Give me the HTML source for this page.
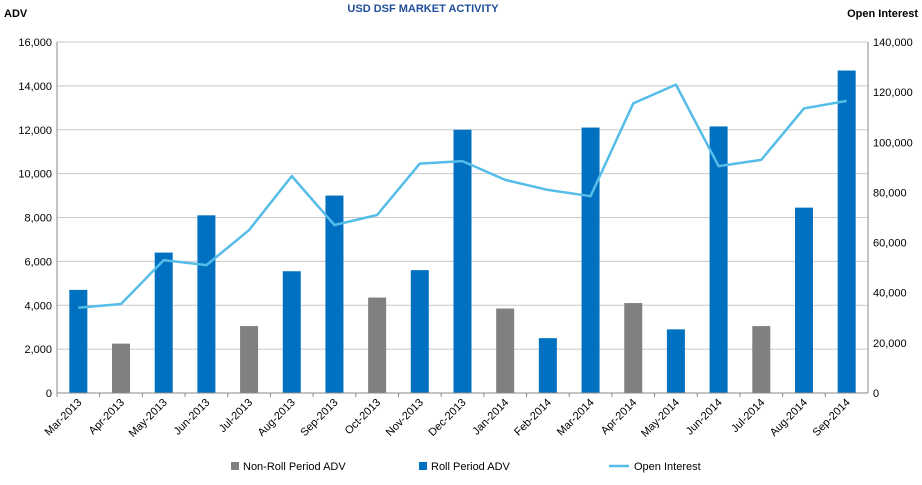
<!DOCTYPE html>
<html><head><meta charset="utf-8"><style>
body{margin:0;background:#fff;font-family:"Liberation Sans",Arial,sans-serif}
svg text{font-family:"Liberation Sans",Arial,sans-serif}
</style></head><body>
<svg id="c" width="922" height="480">
<text x="423" y="12" text-anchor="middle" font-size="11" font-weight="bold" fill="#1f4e9a">USD DSF MARKET ACTIVITY</text>
<text x="4" y="17" font-size="11" font-weight="bold" fill="#000">ADV</text>
<text x="918" y="17" text-anchor="end" font-size="11" font-weight="bold" fill="#000">Open Interest</text>
<g id="grid"></g><g id="bars"></g><g id="line"></g><g id="axes"></g>
<g>
<rect x="231" y="462" width="8" height="8" fill="#808080"/>
<text x="243" y="470" font-size="11">Non-Roll Period ADV</text>
<rect x="419" y="462" width="8" height="8" fill="#0070c0"/>
<text x="431" y="470" font-size="11">Roll Period ADV</text>
<line x1="609" y1="466" x2="629" y2="466" stroke="#55bde8" stroke-width="2.5"/>
<text x="634" y="470" font-size="11">Open Interest</text>
</g>
</svg>
<script>
const categories=["Mar-2013","Apr-2013","May-2013","Jun-2013","Jul-2013","Aug-2013","Sep-2013","Oct-2013","Nov-2013","Dec-2013","Jan-2014","Feb-2014","Mar-2014","Apr-2014","May-2014","Jun-2014","Jul-2014","Aug-2014","Sep-2014"];
const advValues=[4700,2250,6400,8100,3050,5550,9000,4350,5600,12000,3850,2500,12100,4100,2900,12150,3050,8450,14700];
const rollFlags=[1,0,1,1,0,1,1,0,1,1,0,1,1,0,1,1,0,1,1];
const openInterest=[34000,35500,53000,51000,65000,86500,67000,71000,91500,92500,85000,81000,78500,115500,123000,90500,93000,113500,116500];
const leftTicks=[0,2000,4000,6000,8000,10000,12000,14000,16000];
const rightTicks=[0,20000,40000,60000,80000,100000,120000,140000];
const NS="http://www.w3.org/2000/svg";
const L=57,R=868,T=42,B=393;
const bw=(R-L)/categories.length;
const xC=i=>L+bw*(i+0.5);
const yL=v=>B-(v/16000)*(B-T);
const yR=v=>B-(v/140000)*(B-T);
function mk(tag,attrs,parent){const e=document.createElementNS(NS,tag);for(const k in attrs)e.setAttribute(k,attrs[k]);document.getElementById(parent).appendChild(e);return e;}
const fmt=v=>v.toLocaleString('en-US');
leftTicks.forEach(v=>{
 const g=mk('line',{x1:L,x2:R,y1:yL(v),y2:yL(v),stroke:'#c8c8c8','stroke-width':1},'grid');
 
 
 const t=mk('text',{x:L-5,y:yL(v)+4,'text-anchor':'end','font-size':11},'axes');t.textContent=fmt(v);
 
 
});
rightTicks.forEach(v=>{
 const t=mk('text',{x:R+5,y:yR(v)+4,'font-size':11},'axes');t.textContent=fmt(v);
 
 
});
[L,R].forEach(x=>{const a=mk('line',{x1:x,x2:x,y1:T,y2:B,stroke:'#888'},'axes');
 
 });
const xa=mk('line',{x1:L,x2:R,y1:B,y2:B,stroke:'#888'},'axes');


categories.forEach((c,i)=>{
 const v=advValues[i];
 const r=mk('rect',{x:xC(i)-9,y:yL(v),width:18,height:B-yL(v),fill:rollFlags[i]?'#0070c0':'#808080'},'bars');
 
 
 const tk=mk('line',{x1:L+bw*i,x2:L+bw*i,y1:B,y2:B+4,stroke:'#888'},'axes');
 
 
 const t=mk('text',{x:xC(i)+4,y:B+10,'text-anchor':'end','font-size':11,transform:`rotate(-45 ${xC(i)+4} ${B+10})`},'axes');t.textContent=c;
 
 
});
const pl=mk('polyline',{points:openInterest.map((v,i)=>xC(i)+','+yR(v)).join(' '),fill:'none',stroke:'#55bde8','stroke-width':2.5,'stroke-linejoin':'round'},'line');


</script>
</body></html>
